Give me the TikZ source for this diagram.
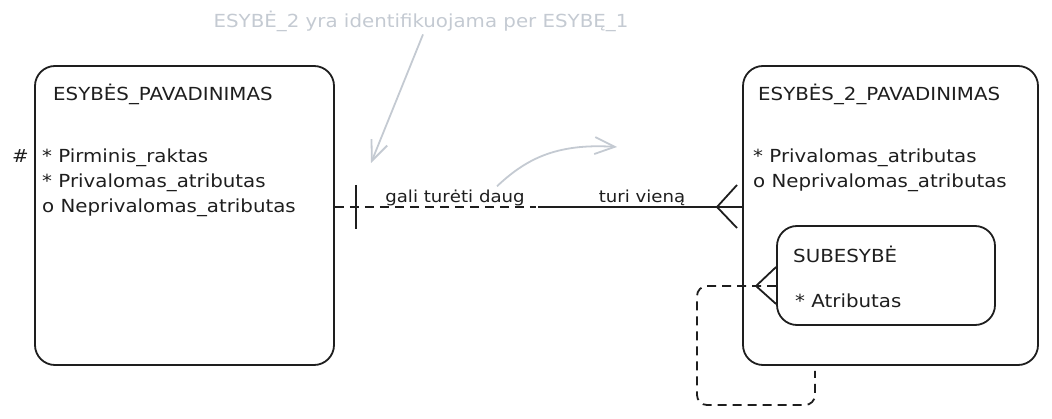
\documentclass[tikz,border=0pt]{standalone}
\usepackage{fontspec}
\setmainfont{DejaVu Sans}[FakeStretch=1.1]
\usetikzlibrary{arrows.meta}
\definecolor{ink}{RGB}{30,30,30}
\definecolor{hintgray}{RGB}{196,202,210}

\begin{document}
\begin{tikzpicture}[x=1pt, y=-1pt,
        entity/.style={rectangle, draw=ink, line width=1.8pt, rounded corners=20pt},
        attr/.style={anchor=base west, inner sep=0pt, text=ink, font=\fontsize{18}{21}\selectfont},
        rellabel/.style={anchor=base, inner sep=0pt, text=ink, font=\fontsize{16.5}{19}\selectfont},
        note/.style={anchor=base, inner sep=2pt, text=hintgray, font=\fontsize{18}{21}\selectfont},
        rel/.style={draw=ink, line width=1.8pt},
        dashrel/.style={rel, dash pattern=on 9pt off 6pt},
        hint/.style={draw=hintgray, line width=1.8pt, -{Straight Barb[length=20pt, width=17pt]}}
        ]
      \useasboundingbox (0,0) rectangle (1052,419);
      % entities
      \node[entity, minimum width=299pt, minimum height=299pt] (ent1) at (184.5,215.5) {};
      \node[entity, minimum width=295pt, minimum height=299pt] (ent2) at (890.5,215.5) {};
      \node[entity, minimum width=218pt, minimum height=99pt] (sub) at (886,275.5) {};
      % attributes
      \node[attr] (ent1name) at (53,101) {ESYBĖS\_PAVADINIMAS};
      \node[attr] (pk) at (12,163) {\#};
      \node[attr] (a11) at (42,163) {* Pirminis\_raktas};
      \node[attr] (a12) at (42,188) {* Privalomas\_atributas};
      \node[attr] (a13) at (42,213) {o Neprivalomas\_atributas};
      \node[attr] (ent2name) at (758,101) {ESYBĖS\_2\_PAVADINIMAS};
      \node[attr] (a21) at (753,163) {* Privalomas\_atributas};
      \node[attr] (a22) at (753,188) {o Neprivalomas\_atributas};
      \node[attr] (subname) at (793,263) {SUBESYBĖ};
      \node[attr] (a31) at (795,308) {* Atributas};
      % relationship
      \coordinate (split) at (536,207);
      \coordinate (bar1) at (356,207);
      \coordinate (foot1) at (717,207);
      \draw[dashrel] (ent1.east |- split) -- (split);
      \draw[rel] ([xshift=2pt]split) -- (ent2.west |- split);
      \draw[rel] (bar1) ++(0,-22) -- ++(0,44);
      \draw[rel] (foot1) -- (737,185);
      \draw[rel] (foot1) -- (737,228);
      \node[rellabel] (l1) at (455,203) {gali turėti daug};
      \node[rellabel] (l2) at (642,203) {turi vieną};
      % subentity loop
      \coordinate (foot2) at (756,286);
      \coordinate (loopend) at (815,371);
      \draw[dashrel, rounded corners=10pt] (sub.west |- foot2) -- (697,286) -- (697,405) -- (815,405) -- (loopend);
      \draw[rel] (foot2) -- (sub.west |- 0,267);
      \draw[rel] (foot2) -- (sub.west |- 0,304);
      % hints
      \node[note] (note) at (421,28) {ESYBĖ\_2 yra identifikuojama per ESYBĘ\_1};
      \coordinate (hint1end) at (371,163);
      \coordinate (hint2end) at (617,147);
      \draw[hint] ([xshift=2pt]note.south) -- (hint1end);
      \draw[hint] ([xshift=42pt, yshift=4pt]l1.north) .. controls (525,160) and (555,143) .. (hint2end);
    \end{tikzpicture}
\end{document}
